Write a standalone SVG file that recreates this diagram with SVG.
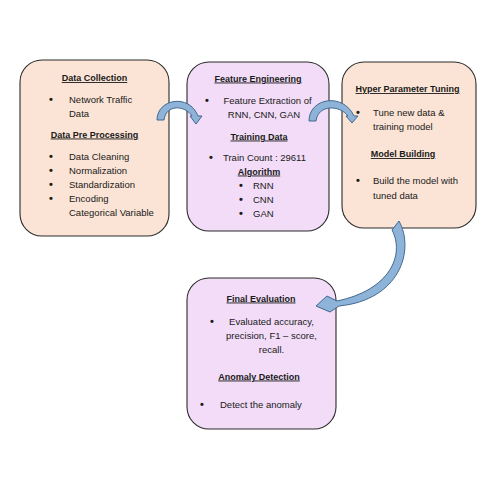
<svg xmlns="http://www.w3.org/2000/svg" width="500" height="500" viewBox="0 0 500 500">
<style>
.box{stroke:#2b2b2b;stroke-width:1.1}
.peach{fill:#FBE4D5}
.lav{fill:#F2DCF7}
text{font-family:"Liberation Sans",Arial,sans-serif;font-size:9.5px;fill:#1a1a1a}
.h{font-weight:bold;font-size:9px;text-decoration:underline;text-anchor:middle}
.c{text-anchor:middle}
.b{font-size:11px;font-weight:bold}
.arrow{fill:#8EB3D8;stroke:#41698F;stroke-width:1;stroke-linejoin:round}
</style>
<rect width="500" height="500" fill="#ffffff"/>
<g id="n1">
<rect class="box peach" x="20" y="60" width="149" height="176" rx="22"/>
<text class="h" x="94.5" y="81">Data Collection</text>
<text class="b" x="49" y="103">•</text><text x="69" y="102.5">Network Traffic</text>
<text x="69" y="116.5">Data</text>
<text class="h" x="94.5" y="137.5">Data Pre Processing</text>
<text class="b" x="49" y="160">•</text><text x="69" y="159.5">Data Cleaning</text>
<text class="b" x="49" y="174">•</text><text x="69" y="173.5">Normalization</text>
<text class="b" x="49" y="188">•</text><text x="69" y="187.5">Standardization</text>
<text class="b" x="49" y="202">•</text><text x="69" y="201.5">Encoding</text>
<text x="69" y="215.5">Categorical Variable</text>
</g>
<g id="n2">
<rect class="box lav" x="187" y="62" width="142" height="169" rx="22"/>
<text class="h" x="258" y="81.5">Feature Engineering</text>
<text class="b" x="205" y="104">•</text><text class="c" x="267.5" y="103.5">Feature Extraction of</text>
<text class="c" x="264" y="117.5">RNN, CNN, GAN</text>
<text class="h" x="259" y="139.5">Training Data</text>
<text class="b" x="209" y="161">•</text><text x="223" y="160.5">Train Count : 29611</text>
<text class="h" x="259" y="174.5">Algorithm</text>
<text class="b" x="239" y="189">•</text><text x="253" y="188.5">RNN</text>
<text class="b" x="239" y="203">•</text><text x="253" y="202.5">CNN</text>
<text class="b" x="239" y="217">•</text><text x="253" y="216.5">GAN</text>
</g>
<g id="n3">
<rect class="box peach" x="342" y="62" width="134" height="166" rx="22"/>
<text class="h" x="407.5" y="92">Hyper Parameter Tuning</text>
<text class="b" x="356" y="116">•</text><text x="373" y="115.5">Tune new data &amp;</text>
<text x="373" y="129.5">training model</text>
<text class="h" x="403" y="157">Model Building</text>
<text class="b" x="356" y="184">•</text><text x="373" y="183.5">Build the model with</text>
<text x="373" y="198.5">tuned data</text>
</g>
<g id="n4">
<rect class="box lav" x="187" y="278" width="149" height="151" rx="22"/>
<text class="h" x="261" y="301.5">Final Evaluation</text>
<text class="b" x="210" y="325">•</text><text class="c" x="271.5" y="324.5">Evaluated accuracy,</text>
<text class="c" x="271.5" y="338.5">precision, F1 – score,</text>
<text class="c" x="271.5" y="352.5">recall.</text>
<text class="h" x="259" y="379.5">Anomaly Detection</text>
<text class="b" x="200" y="408">•</text><text x="220" y="407.5">Detect the anomaly</text>
</g>
<g id="connectors">
<path class="arrow" d="M157,120 C157,99 189,93 198,116 L202,116 L196,124 L190,116 L192,116 C185,105 166,104 164,120 Z"/>
<path class="arrow" d="M309,121 C309,98 343,92 354,116 L358,116 L352,123 L346,116 L348,116 C340,105 318,104 316,121 Z"/>
<path class="arrow" d="M392,230 L399,221 C415,250 400,300 339,306 L330,312 L316,306 L327,296 L337,301 C390,290 405,255 392,230 Z"/>
</g>
</svg>
